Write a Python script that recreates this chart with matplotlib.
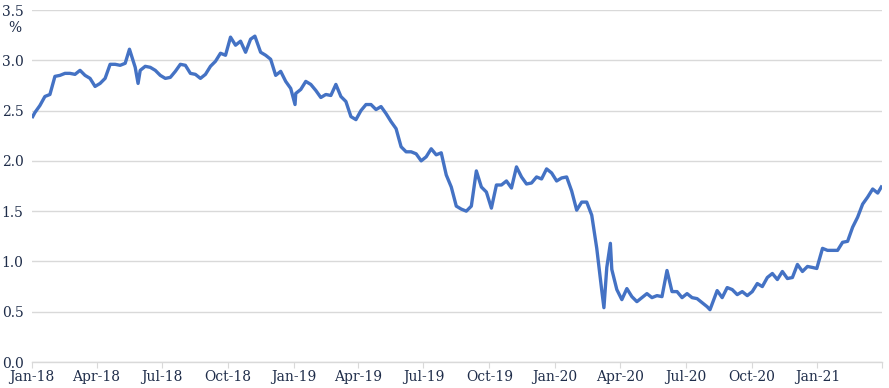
import matplotlib.pyplot as plt
import pandas as pd

# Weekly readings of the yield (%)
dates = [
    '2018-01-02', '2018-01-05', '2018-01-12', '2018-01-19', '2018-01-26', '2018-02-02', '2018-02-09',
    '2018-02-16', '2018-02-23', '2018-03-02', '2018-03-09', '2018-03-16', '2018-03-23', '2018-03-30',
    '2018-04-06', '2018-04-13', '2018-04-20', '2018-04-27', '2018-05-04', '2018-05-11', '2018-05-17',
    '2018-05-25', '2018-05-29', '2018-06-01', '2018-06-08', '2018-06-15', '2018-06-22', '2018-06-29',
    '2018-07-06', '2018-07-13', '2018-07-20', '2018-07-27', '2018-08-03', '2018-08-10', '2018-08-17',
    '2018-08-24', '2018-08-31', '2018-09-07', '2018-09-14', '2018-09-21', '2018-09-28', '2018-10-05',
    '2018-10-12', '2018-10-19', '2018-10-26', '2018-11-02', '2018-11-08', '2018-11-16', '2018-11-23',
    '2018-11-30', '2018-12-07', '2018-12-14', '2018-12-21', '2018-12-28',
    '2019-01-03', '2019-01-04', '2019-01-11', '2019-01-18', '2019-01-25', '2019-02-01', '2019-02-08',
    '2019-02-15', '2019-02-22', '2019-03-01', '2019-03-08', '2019-03-15', '2019-03-22', '2019-03-29',
    '2019-04-05', '2019-04-12', '2019-04-19', '2019-04-26', '2019-05-03', '2019-05-10', '2019-05-17',
    '2019-05-24', '2019-05-31', '2019-06-07', '2019-06-14', '2019-06-21', '2019-06-28', '2019-07-05',
    '2019-07-12', '2019-07-19', '2019-07-26', '2019-08-02', '2019-08-09', '2019-08-16', '2019-08-23',
    '2019-08-30', '2019-09-06', '2019-09-13', '2019-09-20', '2019-09-27', '2019-10-04', '2019-10-11',
    '2019-10-18', '2019-10-25', '2019-11-01', '2019-11-08', '2019-11-15', '2019-11-22', '2019-11-29',
    '2019-12-06', '2019-12-13', '2019-12-20', '2019-12-27',
    '2020-01-03', '2020-01-10', '2020-01-17', '2020-01-24', '2020-01-31', '2020-02-07', '2020-02-14',
    '2020-02-21', '2020-02-28', '2020-03-06', '2020-03-09', '2020-03-13', '2020-03-18', '2020-03-20',
    '2020-03-27', '2020-04-03', '2020-04-10', '2020-04-17', '2020-04-24', '2020-05-01', '2020-05-08',
    '2020-05-15', '2020-05-22', '2020-05-29', '2020-06-05', '2020-06-12', '2020-06-19', '2020-06-26',
    '2020-07-03', '2020-07-10', '2020-07-17', '2020-07-24', '2020-07-31', '2020-08-04', '2020-08-14',
    '2020-08-21', '2020-08-28', '2020-09-04', '2020-09-11', '2020-09-18', '2020-09-25', '2020-10-02',
    '2020-10-09', '2020-10-16', '2020-10-23', '2020-10-30', '2020-11-06', '2020-11-13', '2020-11-20',
    '2020-11-27', '2020-12-04', '2020-12-11', '2020-12-18', '2020-12-25', '2020-12-31',
    '2021-01-08', '2021-01-15', '2021-01-22', '2021-01-29', '2021-02-05', '2021-02-12', '2021-02-19',
    '2021-02-26', '2021-03-05', '2021-03-12', '2021-03-19', '2021-03-26', '2021-03-31',
]
yields = [
    2.44, 2.48, 2.55, 2.64, 2.66, 2.84, 2.85,
    2.87, 2.87, 2.86, 2.90, 2.85, 2.82, 2.74,
    2.77, 2.82, 2.96, 2.96, 2.95, 2.97, 3.11,
    2.93, 2.77, 2.90, 2.94, 2.93, 2.90, 2.85,
    2.82, 2.83, 2.89, 2.96, 2.95, 2.87, 2.86,
    2.82, 2.86, 2.94, 2.99, 3.07, 3.05, 3.23,
    3.15, 3.19, 3.08, 3.21, 3.24, 3.08, 3.05,
    3.01, 2.85, 2.89, 2.79, 2.72,
    2.56, 2.67, 2.71, 2.79, 2.76, 2.70, 2.63,
    2.66, 2.65, 2.76, 2.64, 2.59, 2.44, 2.41,
    2.50, 2.56, 2.56, 2.51, 2.54, 2.47, 2.39,
    2.32, 2.14, 2.09, 2.09, 2.07, 2.00, 2.04,
    2.12, 2.06, 2.08, 1.86, 1.74, 1.55, 1.52,
    1.50, 1.55, 1.90, 1.74, 1.69, 1.53, 1.76,
    1.76, 1.80, 1.73, 1.94, 1.84, 1.77, 1.78,
    1.84, 1.82, 1.92, 1.88,
    1.80, 1.83, 1.84, 1.70, 1.51, 1.59, 1.59,
    1.46, 1.13, 0.71, 0.54, 0.94, 1.18, 0.92,
    0.72, 0.62, 0.73, 0.65, 0.60, 0.64, 0.68,
    0.64, 0.66, 0.65, 0.91, 0.70, 0.70, 0.64,
    0.68, 0.64, 0.63, 0.59, 0.55, 0.52, 0.71,
    0.64, 0.74, 0.72, 0.67, 0.70, 0.66, 0.70,
    0.78, 0.75, 0.84, 0.88, 0.82, 0.90, 0.83,
    0.84, 0.97, 0.90, 0.95, 0.94, 0.93,
    1.13, 1.11, 1.11, 1.11, 1.19, 1.20, 1.34,
    1.44, 1.57, 1.64, 1.72, 1.68, 1.74,
]
y_ticks = [0.0, 0.5, 1.0, 1.5, 2.0, 2.5, 3.0, 3.5]

text_col = '#1f2d4a'
grid_col = '#d9d9d9'
plt.rcParams['font.family'] = ['DejaVu Serif']

x = pd.to_datetime(dates)

fig = plt.figure(figsize=(8.89, 3.88), dpi=100)
ax = fig.add_axes([32 / 889, 1 - 362 / 388, 850 / 889, 352 / 388])

ax.plot(x, yields, color='#4472c4', linewidth=2.4, solid_joinstyle='round')

# Axis style
ax.set_ylim(0, 3.5)
ax.set_yticks(y_ticks)
ax.set_yticklabels([f'{v:.1f}' for v in y_ticks])
ax.set_xlim(pd.Timestamp('2018-01-01'), pd.Timestamp('2021-04-01'))
ticks = pd.date_range('2018-01-01', '2021-04-01', freq='QS')
ax.set_xticks(ticks)
ax.set_xticklabels([t.strftime('%b-%y') if t < ticks[-1] else '' for t in ticks])

ax.grid(axis='y', color=grid_col, linewidth=1)
ax.set_axisbelow(True)
for s in ['top', 'right', 'left']:
    ax.spines[s].set_visible(False)
ax.spines['bottom'].set_color(grid_col)
ax.spines['bottom'].set_linewidth(1)
ax.tick_params(axis='y', length=0, pad=6, labelsize=10, labelcolor=text_col)
ax.tick_params(axis='x', length=4, color=grid_col, pad=2, labelsize=10, labelcolor=text_col)

fig.text(15 / 889, 1 - 28 / 388, '%', fontsize=10, color=text_col, ha='center', va='center')

fig.savefig('out.png', dpi=100)
